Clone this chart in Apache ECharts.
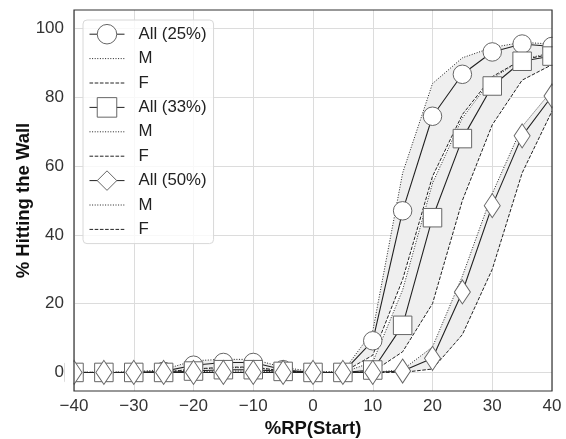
<!DOCTYPE html>
<html>
<head>
<meta charset="utf-8">
<style>
  html, body { margin: 0; padding: 0; background: #fff; }
  #chart { width: 566px; height: 439px; }
</style>
<script src="https://cdn.jsdelivr.net/npm/echarts@6/dist/echarts.min.js"></script>
</head>
<body>
<div id="chart"></div>
<script>
// Start position relative to RP (%)
const xs = [-40, -35, -30, -25, -20, -15, -10, -5, 0, 5, 10, 15, 20, 25, 30, 35, 40];
const yTicks = [0, 20, 40, 60, 80, 100];

// 25% threshold
const all25 = [0, 0, 0, 0.3, 2.1, 2.9, 2.9, 0.8, 0, 0, 9.2, 47, 74.5, 86.7, 93.2, 95.5, 94.8];
const m25   = [0, 0, 0.2, 0.8, 3.4, 3.8, 3.8, 1.5, 0.2, 0.2, 12, 58, 84, 91.5, 94.5, 96, 95.5];
const f25   = [0, 0, 0, 0, 1, 1.5, 1.6, 0.4, 0, 0, 5, 27, 57, 75, 86, 91, 92.5];

// 33% threshold
const all33 = [0, 0, 0, 0, 0.4, 0.8, 0.8, 0.3, 0, 0, 0.7, 13.7, 45, 68, 83.3, 90.5, 92];
const m33   = [0, 0, 0, 0.2, 0.9, 1.4, 1.4, 0.5, 0, 0, 3, 24, 55, 74, 85.5, 91, 93];
const f33   = [0, 0, 0, 0, 0, 0, 0, 0, 0, 0, 0.2, 6, 20, 50, 72, 85, 89.5];

// 50% threshold
const all50 = [0, 0, 0, 0, 0, 0, 0, 0, 0, 0, 0, 0.4, 4.1, 23.4, 48.5, 68.8, 80.4];
const m50   = [0, 0, 0, 0, 0.2, 0.4, 0.4, 0.1, 0, 0, 0, 0.8, 7.4, 28, 52, 71.5, 82];
const f50   = [0, 0, 0, 0, 0, 0, 0, 0, 0, 0, 0, 0, 1, 11, 30, 58, 76];

const FONT = 'Liberation Sans';
const pairs = (ys) => xs.map((x, i) => [x, ys[i]]);
const DOTTED = [1, 1.6];
const DASHED = [3.6, 1.6];

// Shaded band between the M and F curves
function band(upper, lower) {
  return {
    type: 'custom',
    silent: true,
    clip: true,
    z: 1,
    data: [[0, 0]],
    renderItem: function (params, api) {
      const pts = [];
      xs.forEach((x, i) => pts.push(api.coord([x, upper[i]])));
      for (let i = xs.length - 1; i >= 0; i--) pts.push(api.coord([xs[i], lower[i]]));
      return { type: 'polygon', shape: { points: pts }, style: { fill: '#efefef', stroke: null } };
    }
  };
}

function allLine(name, ys, symbol, size) {
  return {
    name: name, type: 'line', data: pairs(ys), z: 3,
    symbol: symbol, symbolSize: size, showAllSymbol: true,
    lineStyle: { color: '#222', width: 1.1, type: 'solid' },
    itemStyle: { color: '#fff', borderColor: '#666', borderWidth: 1 },
    emphasis: { disabled: true }, animation: false
  };
}

function sexLine(name, ys, dash) {
  return {
    name: name, type: 'line', data: pairs(ys), z: 2,
    symbol: 'none',
    lineStyle: { color: '#222', width: 1, type: dash },
    itemStyle: { color: 'rgba(0,0,0,0)', borderWidth: 0 },
    emphasis: { disabled: true }, animation: false
  };
}

const markerKey = (name) => ({ name: name, itemStyle: { borderWidth: 1, borderColor: '#666', color: '#fff' } });

const chart = echarts.init(document.getElementById('chart'), null, { renderer: 'canvas' });

chart.setOption({
  backgroundColor: '#fff',
  animation: false,
  textStyle: { fontFamily: FONT },
  grid: {
    left: 74, right: 14, top: 10, bottom: 48,
    outerBoundsMode: 'none', containLabel: false,
    show: true, z: 6, backgroundColor: 'rgba(0,0,0,0)',
    borderColor: '#333', borderWidth: 1.2
  },
  legend: {
    orient: 'vertical', left: 83, top: 20,
    itemWidth: 35, itemHeight: 24.4, itemGap: 0,
    padding: [2, 7, 2, 6],
    backgroundColor: 'rgba(255,255,255,0.8)',
    borderColor: '#d8d8d8', borderWidth: 1, borderRadius: 4,
    selectedMode: false,
    lineStyle: { width: 1 },
    textStyle: { fontFamily: FONT, fontSize: 16.8, color: '#222', lineHeight: 24.4, padding: [0, 0, 0, 9] },
    formatter: (name) => name.split('|')[0],
    data: [markerKey('All (25%)'), 'M|25', 'F|25',
           markerKey('All (33%)'), 'M|33', 'F|33',
           markerKey('All (50%)'), 'M|50', 'F|50']
  },
  xAxis: {
    type: 'value', min: -40, max: 40, interval: 10,
    name: '%RP(Start)', nameLocation: 'middle', nameGap: 28, nameMoveOverlap: false,
    nameTextStyle: { fontFamily: FONT, fontSize: 18.5, fontWeight: 'bold', color: '#111' },
    axisLine: { show: false }, axisTick: { show: false },
    axisLabel: {
      margin: 7, fontFamily: FONT, fontSize: 17, color: '#333',
      formatter: (v) => String(v).replace('-', '\u2212')
    },
    splitLine: { show: true, lineStyle: { color: '#dcdcdc', width: 1 } }
  },
  yAxis: {
    type: 'value', min: -5.4, max: 105.4,
    name: '% Hitting the Wall', nameLocation: 'middle', nameGap: 41, nameMoveOverlap: false,
    nameTextStyle: { fontFamily: FONT, fontSize: 18.5, fontWeight: 'bold', color: '#111' },
    axisLine: { show: false },
    axisTick: { show: false, customValues: yTicks },
    axisLabel: { margin: 10, fontFamily: FONT, fontSize: 17, color: '#333', customValues: yTicks },
    splitLine: { show: true, lineStyle: { color: '#dcdcdc', width: 1 } }
  },
  graphic: [
    // cover marker halves that fall outside the plot frame
    { type: 'rect', z: 5, silent: true, shape: { x: 552.6, y: 0, width: 14, height: 390.4 }, style: { fill: '#fff' } },
    { type: 'rect', z: 5, silent: true, shape: { x: 64.3, y: 355, width: 9.2, height: 36 }, style: { fill: '#fff' } }
  ],
  series: [
    band(m25, f25),
    band(m33, f33),
    band(m50, f50),
    sexLine('M|25', m25, DOTTED),
    sexLine('F|25', f25, DASHED),
    allLine('All (25%)', all25, 'circle', 18.5),
    sexLine('M|33', m33, DOTTED),
    sexLine('F|33', f33, DASHED),
    allLine('All (33%)', all33, 'rect', 18.5),
    sexLine('M|50', m50, DOTTED),
    sexLine('F|50', f50, DASHED),
    allLine('All (50%)', all50, 'diamond', [16, 24])
  ]
});
</script>
</body>
</html>
